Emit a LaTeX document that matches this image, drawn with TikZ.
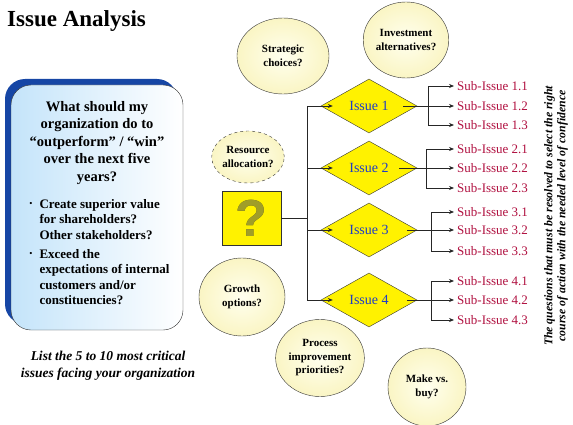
\documentclass[tikz,border=0pt]{standalone}
\usepackage{fontspec}
\setmainfont{Liberation Serif}
\newfontfamily\qfont{Liberation Sans}
\usepackage[outline]{contour}
\contourlength{0.9pt}
\usetikzlibrary{arrows.meta,positioning,shapes.geometric,shadows}
\definecolor{frameBlue}{RGB}{22,70,165}
\definecolor{boxSky}{RGB}{196,228,250}
\definecolor{ideaCream}{RGB}{250,245,196}
\definecolor{ideaLight}{RGB}{255,255,238}
\definecolor{issueBlue}{RGB}{30,60,200}
\definecolor{subRed}{RGB}{176,16,64}
\definecolor{qOlive}{RGB}{160,158,40}
\definecolor{qDark}{RGB}{80,78,20}

\begin{document}
\begin{tikzpicture}[x=1pt, y=-1pt,
    idea/.style={ellipse, draw=black!80, inner color=ideaLight, outer color=ideaCream, inner sep=0pt, align=center, font=\bfseries\fontsize{11}{13.5}\selectfont},
    issue/.style={diamond, draw=black!80, fill=yellow, inner sep=0pt, minimum width=96pt, minimum height=54pt, aspect=1.78, text=issueBlue, font=\fontsize{14}{16}\selectfont},
    sub/.style={anchor=west, inner xsep=3pt, inner ysep=1pt, text=subRed, font=\fontsize{13}{15}\selectfont},
    link/.style={draw=black!85, line width=0.7pt},
    >={Stealth[length=5pt,width=4pt]}
  ]
    \useasboundingbox (0,0) rectangle (573,425);

    % title and question box
    \node[anchor=base west, inner sep=0pt, font=\bfseries\fontsize{23}{26}\selectfont] (title) at (7,27) {Issue Analysis};
    \node[draw=black!80, rounded corners=20pt, minimum width=172pt, minimum height=245pt, left color=boxSky, right color=white,
      drop shadow={shadow xshift=-6pt, shadow yshift=6pt, opacity=1, fill=frameBlue}] (frame) at (97,207.5) {};
    \node[align=center, font=\bfseries\fontsize{14.5}{17.5}\selectfont] (quest) at (97,143) {What should my\\organization do to\\``outperform'' / ``win''\\over the next five\\years?};
    \node[anchor=west, align=left, font=\bfseries\fontsize{13}{15.5}\selectfont] (valtxt) at (36,219.5) {Create superior value\\for shareholders?\\Other stakeholders?};
    \node[font=\fontsize{9}{9}\selectfont] (valdot) at (31,204) {\textbullet};
    \node[anchor=west, align=left, font=\bfseries\fontsize{13}{15.5}\selectfont] (exptxt) at (36,277) {Exceed the\\expectations of internal\\customers and/or\\constituencies?};
    \node[font=\fontsize{9}{9}\selectfont] (expdot) at (31,254) {\textbullet};
    \node[align=center, font=\bfseries\itshape\fontsize{13.5}{17}\selectfont] (crit) at (108,366) {List the 5 to 10 most critical\\issues facing your organization};

    % ideas around the tree
    \node[idea, minimum width=92pt, minimum height=76pt] (strat) at (283,56) {Strategic\\choices?};
    \node[idea, minimum width=84pt, minimum height=76pt] (invest) at (406,40) {Investment\\alternatives?};
    \node[idea, dashed, minimum width=72pt, minimum height=52pt] (resrc) at (248,157) {Resource\\allocation?};
    \node[idea, minimum width=86pt, minimum height=78pt] (growth) at (242,297) {Growth\\options?};
    \node[idea, minimum width=88pt, minimum height=77pt] (proc) at (320,358) {Process\\improvement\\priorities?};
    \node[idea, minimum width=78pt, minimum height=78pt] (make) at (427,387) {Make vs.\\buy?};

    % issue tree
    \node[draw=black!80, fill=yellow, minimum width=59pt, minimum height=54pt, inner sep=0pt] (qmark) at (251.5,218)
      {\qfont\bfseries\fontsize{52}{52}\selectfont\contour{qDark}{\textcolor{qOlive}{?}}};
    \node[issue] (i1) at (369,106) {Issue 1};
    \node[issue] (i2) at (369,168) {Issue 2};
    \node[issue] (i3) at (369,230) {Issue 3};
    \node[issue] (i4) at (369,300) {Issue 4};
    \coordinate (trunkTop) at (307,106);
    \coordinate (trunkBot) at (307,300);
    \draw[link] (trunkTop) -- (trunkBot);
    \draw[link] (qmark.east) -- (qmark.east -| trunkTop);
    \draw[link, ->] (i1.west -| trunkTop) -- ([xshift=12pt]i1.west);
    \draw[link, ->] (i2.west -| trunkTop) -- ([xshift=12pt]i2.west);
    \draw[link, ->] (i3.west -| trunkTop) -- ([xshift=12pt]i3.west);
    \draw[link, ->] (i4.west -| trunkTop) -- ([xshift=12pt]i4.west);

    % sub-issues
    \node[sub] (s11) at (454,86) {Sub-Issue 1.1};
    \node[sub] (s12) at (454,106) {Sub-Issue 1.2};
    \node[sub] (s13) at (454,125) {Sub-Issue 1.3};
    \node[sub] (s21) at (454,149) {Sub-Issue 2.1};
    \node[sub] (s22) at (454,168) {Sub-Issue 2.2};
    \node[sub] (s23) at (454,188) {Sub-Issue 2.3};
    \node[sub] (s31) at (454,212) {Sub-Issue 3.1};
    \node[sub] (s32) at (454,230) {Sub-Issue 3.2};
    \node[sub] (s33) at (454,251) {Sub-Issue 3.3};
    \node[sub] (s41) at (454,281) {Sub-Issue 4.1};
    \node[sub] (s42) at (454,300) {Sub-Issue 4.2};
    \node[sub] (s43) at (454,320) {Sub-Issue 4.3};
    \coordinate (b1) at (428,106);
    \coordinate (b2) at (426,168);
    \coordinate (b3) at (431,230);
    \coordinate (b4) at (431,300);
    \draw[link] ([xshift=-14pt]i1.east) -- (b1);
    \draw[link] ([xshift=-18pt]i2.east) -- (b2);
    \draw[link] ([xshift=-10pt]i3.east) -- (b3);
    \draw[link] ([xshift=-10pt]i4.east) -- (b4);
    \draw[link, ->] (b1) |- (s11.west);
    \draw[link, ->] (b1) -- (s12.west);
    \draw[link, ->] (b1) |- (s13.west);
    \draw[link, ->] (b2) |- (s21.west);
    \draw[link, ->] (b2) -- (s22.west);
    \draw[link, ->] (b2) |- (s23.west);
    \draw[link, ->] (b3) |- (s31.west);
    \draw[link, ->] (b3) -- (s32.west);
    \draw[link, ->] (b3) |- (s33.west);
    \draw[link, ->] (b4) |- (s41.west);
    \draw[link, ->] (b4) -- (s42.west);
    \draw[link, ->] (b4) |- (s43.west);

    % side note
    \node[rotate=90, align=center, font=\bfseries\itshape\fontsize{11.8}{13}\selectfont] (note) at (556,216)
      {The questions that must be resolved to select the right\\course of action with the needed level of confidence};
  \end{tikzpicture}
\end{document}
